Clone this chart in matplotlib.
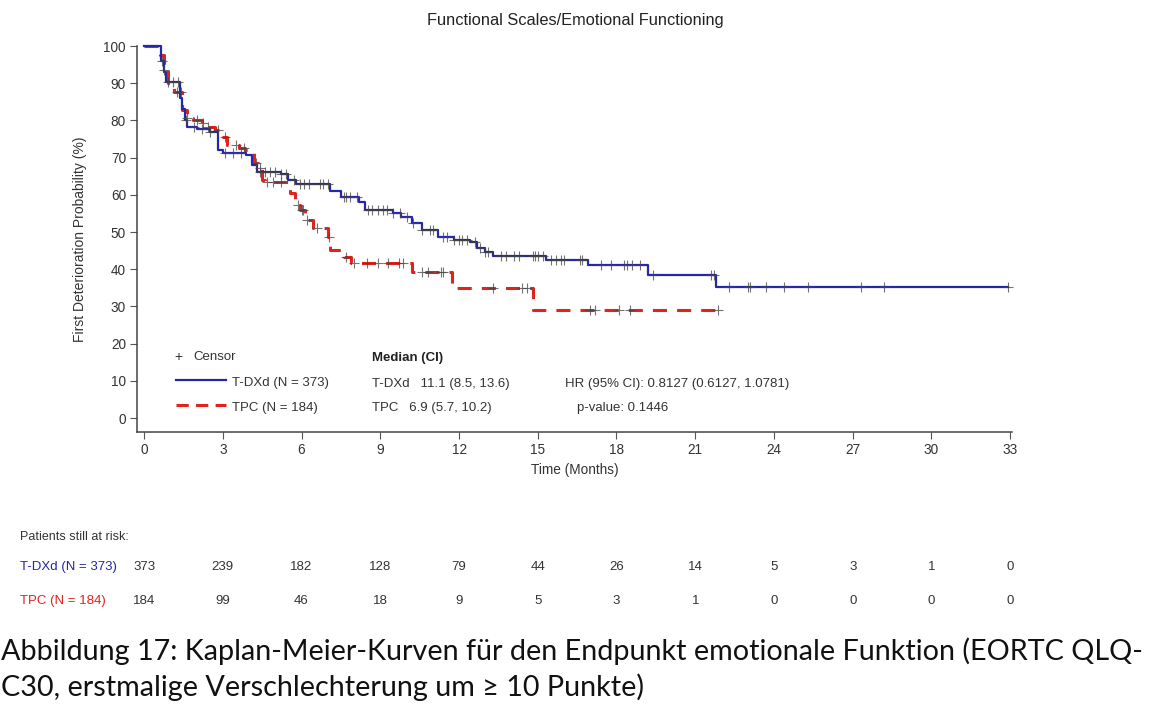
import numpy as np
import matplotlib
matplotlib.use("Agg")
import matplotlib.pyplot as plt

# Kaplan-Meier step points (months, % without first deterioration)
tdxd_t = [0, 0.65, 0.75, 0.85, 1.35, 1.45, 1.55, 1.65, 2.0, 2.5, 2.8, 3.0, 3.9, 4.1,
          4.3, 5.2, 5.5, 5.8, 7.1, 7.5, 8.2, 8.4, 9.5, 9.8, 10.2, 10.6, 11.2, 11.8,
          12.4, 12.7, 13.0, 13.3, 15.3, 16.9, 19.2, 21.8]
tdxd_s = [100, 96, 93, 90.3, 86, 83, 80, 78.2, 77.7, 77, 72, 71.2, 70.7, 68,
          66, 65.6, 64, 63, 61, 59.5, 58, 56, 55.2, 54, 52.4, 50.5, 48.7, 47.8,
          47.3, 45.7, 44.6, 43.6, 42.5, 41.1, 38.4, 35.3]
tdxd_end = 32.9
tdxd_cens = [0.7, 0.9, 1.1, 1.3, 1.6, 1.9, 2.2, 2.5, 3.1, 3.4, 3.7, 4.4, 4.6, 4.8,
             5.0, 5.2, 5.4, 5.7, 5.95, 6.1, 6.3, 6.7, 6.8, 7.0, 7.6, 7.7, 7.85, 8.1,
             8.55, 8.7, 8.9, 9.1, 9.25, 9.5, 9.75, 10.0, 10.25, 10.6, 10.9, 11.0,
             11.4, 11.55, 11.8, 12.0, 12.1, 12.3, 12.6, 12.8, 13.0, 13.1, 13.6, 13.8,
             14.1, 14.3, 14.8, 14.9, 15.0, 15.2, 15.5, 15.7, 15.9, 16.0, 16.6, 16.7,
             17.4, 17.8, 18.3, 18.4, 18.6, 18.9, 19.4, 21.6, 21.7, 22.3, 23.0, 23.1,
             23.7, 24.4, 25.3, 27.3, 28.2, 32.9]

tpc_t = [0, 0.6, 0.75, 0.9, 1.15, 1.45, 1.65, 1.85, 2.2, 2.4, 2.7, 2.9, 3.15, 3.6,
         3.85, 4.1, 4.2, 4.35, 4.5, 4.6, 5.55, 5.75, 5.95, 6.15, 6.45, 7.0, 7.1,
         7.6, 7.9, 10.2, 11.75, 14.8]
tpc_s = [100, 97.5, 93.5, 90, 87.6, 82.8, 80.6, 80, 79.3, 78.2, 77.4, 75.5, 73.4, 72.6,
         72, 71.2, 68.5, 67.2, 64, 63.4, 60.5, 57.3, 56, 53.2, 51, 48.7, 45.2,
         43.3, 41.7, 39.2, 35, 29]
tpc_end = 21.9
tpc_cens = [0.75, 1.25, 1.4, 1.65, 2.0, 2.25, 2.45, 2.8, 3.1, 3.5, 3.8, 4.25, 4.4,
            4.7, 4.9, 5.2, 5.85, 6.0, 6.05, 6.2, 6.6, 7.05, 7.7, 8.0, 8.5, 8.9, 9.3,
            9.7, 9.85, 10.6, 10.8, 11.3, 11.4, 13.3, 14.4, 14.6, 17.0, 17.2, 18.1,
            18.5, 21.85]

risk_times = [0, 3, 6, 9, 12, 15, 18, 21, 24, 27, 30, 33]
tdxd_risk = [373, 239, 182, 128, 79, 44, 26, 14, 5, 3, 1, 0]
tpc_risk = [184, 99, 46, 18, 9, 5, 3, 1, 0, 0, 0, 0]

x_ticks = [0, 3, 6, 9, 12, 15, 18, 21, 24, 27, 30, 33]
y_ticks = [0, 10, 20, 30, 40, 50, 60, 70, 80, 90, 100]

BLUE = "#2626a8"
RED = "#e0231e"
TXT = "#333333"

W, H = 1171, 711
plt.rcParams["font.family"] = ["Liberation Sans", "DejaVu Sans"]
fig = plt.figure(figsize=(W / 100, H / 100), dpi=100)


def fx(x):
    return x / W


def fy(y):
    return 1 - y / H


ax = fig.add_axes([fx(137), fy(432), fx(1012) - fx(137), fy(46) - fy(432)])
ax.set_xlim(-0.27, 33.07)
ax.set_ylim(-3.76, 100)


def step_value(ts, ss, t):
    idx = np.searchsorted(ts, t, side="right") - 1
    return np.asarray(ss)[idx]


def draw_curve(ts, ss, end, cens, **kw):
    xs = list(ts) + [end]
    ys = list(ss) + [ss[-1]]
    ax.step(xs, ys, where="post", clip_on=False, **kw)
    cy = step_value(np.asarray(ts), ss, np.asarray(cens))
    ax.plot(cens, cy, ls="none", marker="+", ms=6.5, mew=0.8,
            color="#444444", alpha=0.75, zorder=5, clip_on=False)


draw_curve(tpc_t, tpc_s, tpc_end, tpc_cens, color=RED, lw=2.2,
           dashes=(4.6, 3.3), zorder=3)
draw_curve(tdxd_t, tdxd_s, tdxd_end, tdxd_cens, color=BLUE, lw=1.6, zorder=4)

for side in ("top", "right"):
    ax.spines[side].set_visible(False)
for side in ("left", "bottom"):
    ax.spines[side].set_color("#444444")
    ax.spines[side].set_linewidth(1.1)
ax.set_xticks(x_ticks)
ax.set_yticks(y_ticks)
ax.tick_params(axis="both", direction="out", length=5, width=0.8,
               colors="#555555", labelcolor=TXT, labelsize=9.8, pad=3)
ax.set_xlabel("Time (Months)", fontsize=9.8, color=TXT, labelpad=4)
ax.set_ylabel("First Deterioration Probability (%)", fontsize=10, color=TXT,
              labelpad=12)
fig.text(fx(575), fy(20), "Functional Scales/Emotional Functioning",
         ha="center", va="center", fontsize=11.8, color="#222222")

# legend and summary statistics inside the plot area
fig.text(fx(178), fy(357), "+", ha="center", va="center", fontsize=10, color=TXT)
fig.text(fx(193), fy(357), "Censor", ha="left", va="center", fontsize=9.5, color=TXT)
fig.add_artist(plt.Line2D([fx(176), fx(226)], [fy(380), fy(380)],
                          color=BLUE, lw=1.6, transform=fig.transFigure))
fig.add_artist(plt.Line2D([fx(176), fx(226)], [fy(405), fy(405)],
                          color=RED, lw=2.2, dashes=(4.0, 2.4),
                          transform=fig.transFigure))
fig.text(fx(232), fy(383), "T-DXd (N = 373)", ha="left", va="center",
         fontsize=9.5, color=TXT)
fig.text(fx(232), fy(408), "TPC (N = 184)", ha="left", va="center",
         fontsize=9.5, color=TXT)
fig.text(fx(372), fy(358), "Median (CI)", ha="left", va="center",
         fontsize=9.5, color="#222222", fontweight="bold")
fig.text(fx(372), fy(384), "T-DXd   11.1 (8.5, 13.6)", ha="left", va="center",
         fontsize=9.5, color=TXT)
fig.text(fx(372), fy(408), "TPC   6.9 (5.7, 10.2)", ha="left", va="center",
         fontsize=9.5, color=TXT)
fig.text(fx(565), fy(384), "HR (95% CI): 0.8127 (0.6127, 1.0781)", ha="left",
         va="center", fontsize=9.5, color=TXT)
fig.text(fx(577), fy(408), "p-value: 0.1446", ha="left", va="center",
         fontsize=9.5, color=TXT)

# numbers at risk
fig.text(fx(20), fy(537), "Patients still at risk:", ha="left", va="center",
         fontsize=9, color=TXT)
fig.text(fx(20), fy(567), "T-DXd (N = 373)", ha="left", va="center",
         fontsize=9.5, color=BLUE)
fig.text(fx(20), fy(601), "TPC (N = 184)", ha="left", va="center",
         fontsize=9.5, color=RED)
blend = matplotlib.transforms.blended_transform_factory(ax.transData, fig.transFigure)
for t, a, b in zip(risk_times, tdxd_risk, tpc_risk):
    ax.text(t, fy(567), str(a), transform=blend, ha="center", va="center",
            fontsize=9.5, color=TXT, clip_on=False)
    ax.text(t, fy(601), str(b), transform=blend, ha="center", va="center",
            fontsize=9.5, color=TXT, clip_on=False)

# figure caption
cap_font = ["Lato", "DejaVu Sans"]
fig.text(fx(1), fy(651), "Abbildung 17: Kaplan-Meier-Kurven für den Endpunkt "
         "emotionale Funktion (EORTC QLQ-", ha="left", va="center",
         fontsize=20.7, color="#111111", family=cap_font)
fig.text(fx(1), fy(687), "C30, erstmalige Verschlechterung um ≥ 10 Punkte)",
         ha="left", va="center", fontsize=20.7, color="#111111", family=cap_font)

fig.savefig("out.png", dpi=100, facecolor="white")
